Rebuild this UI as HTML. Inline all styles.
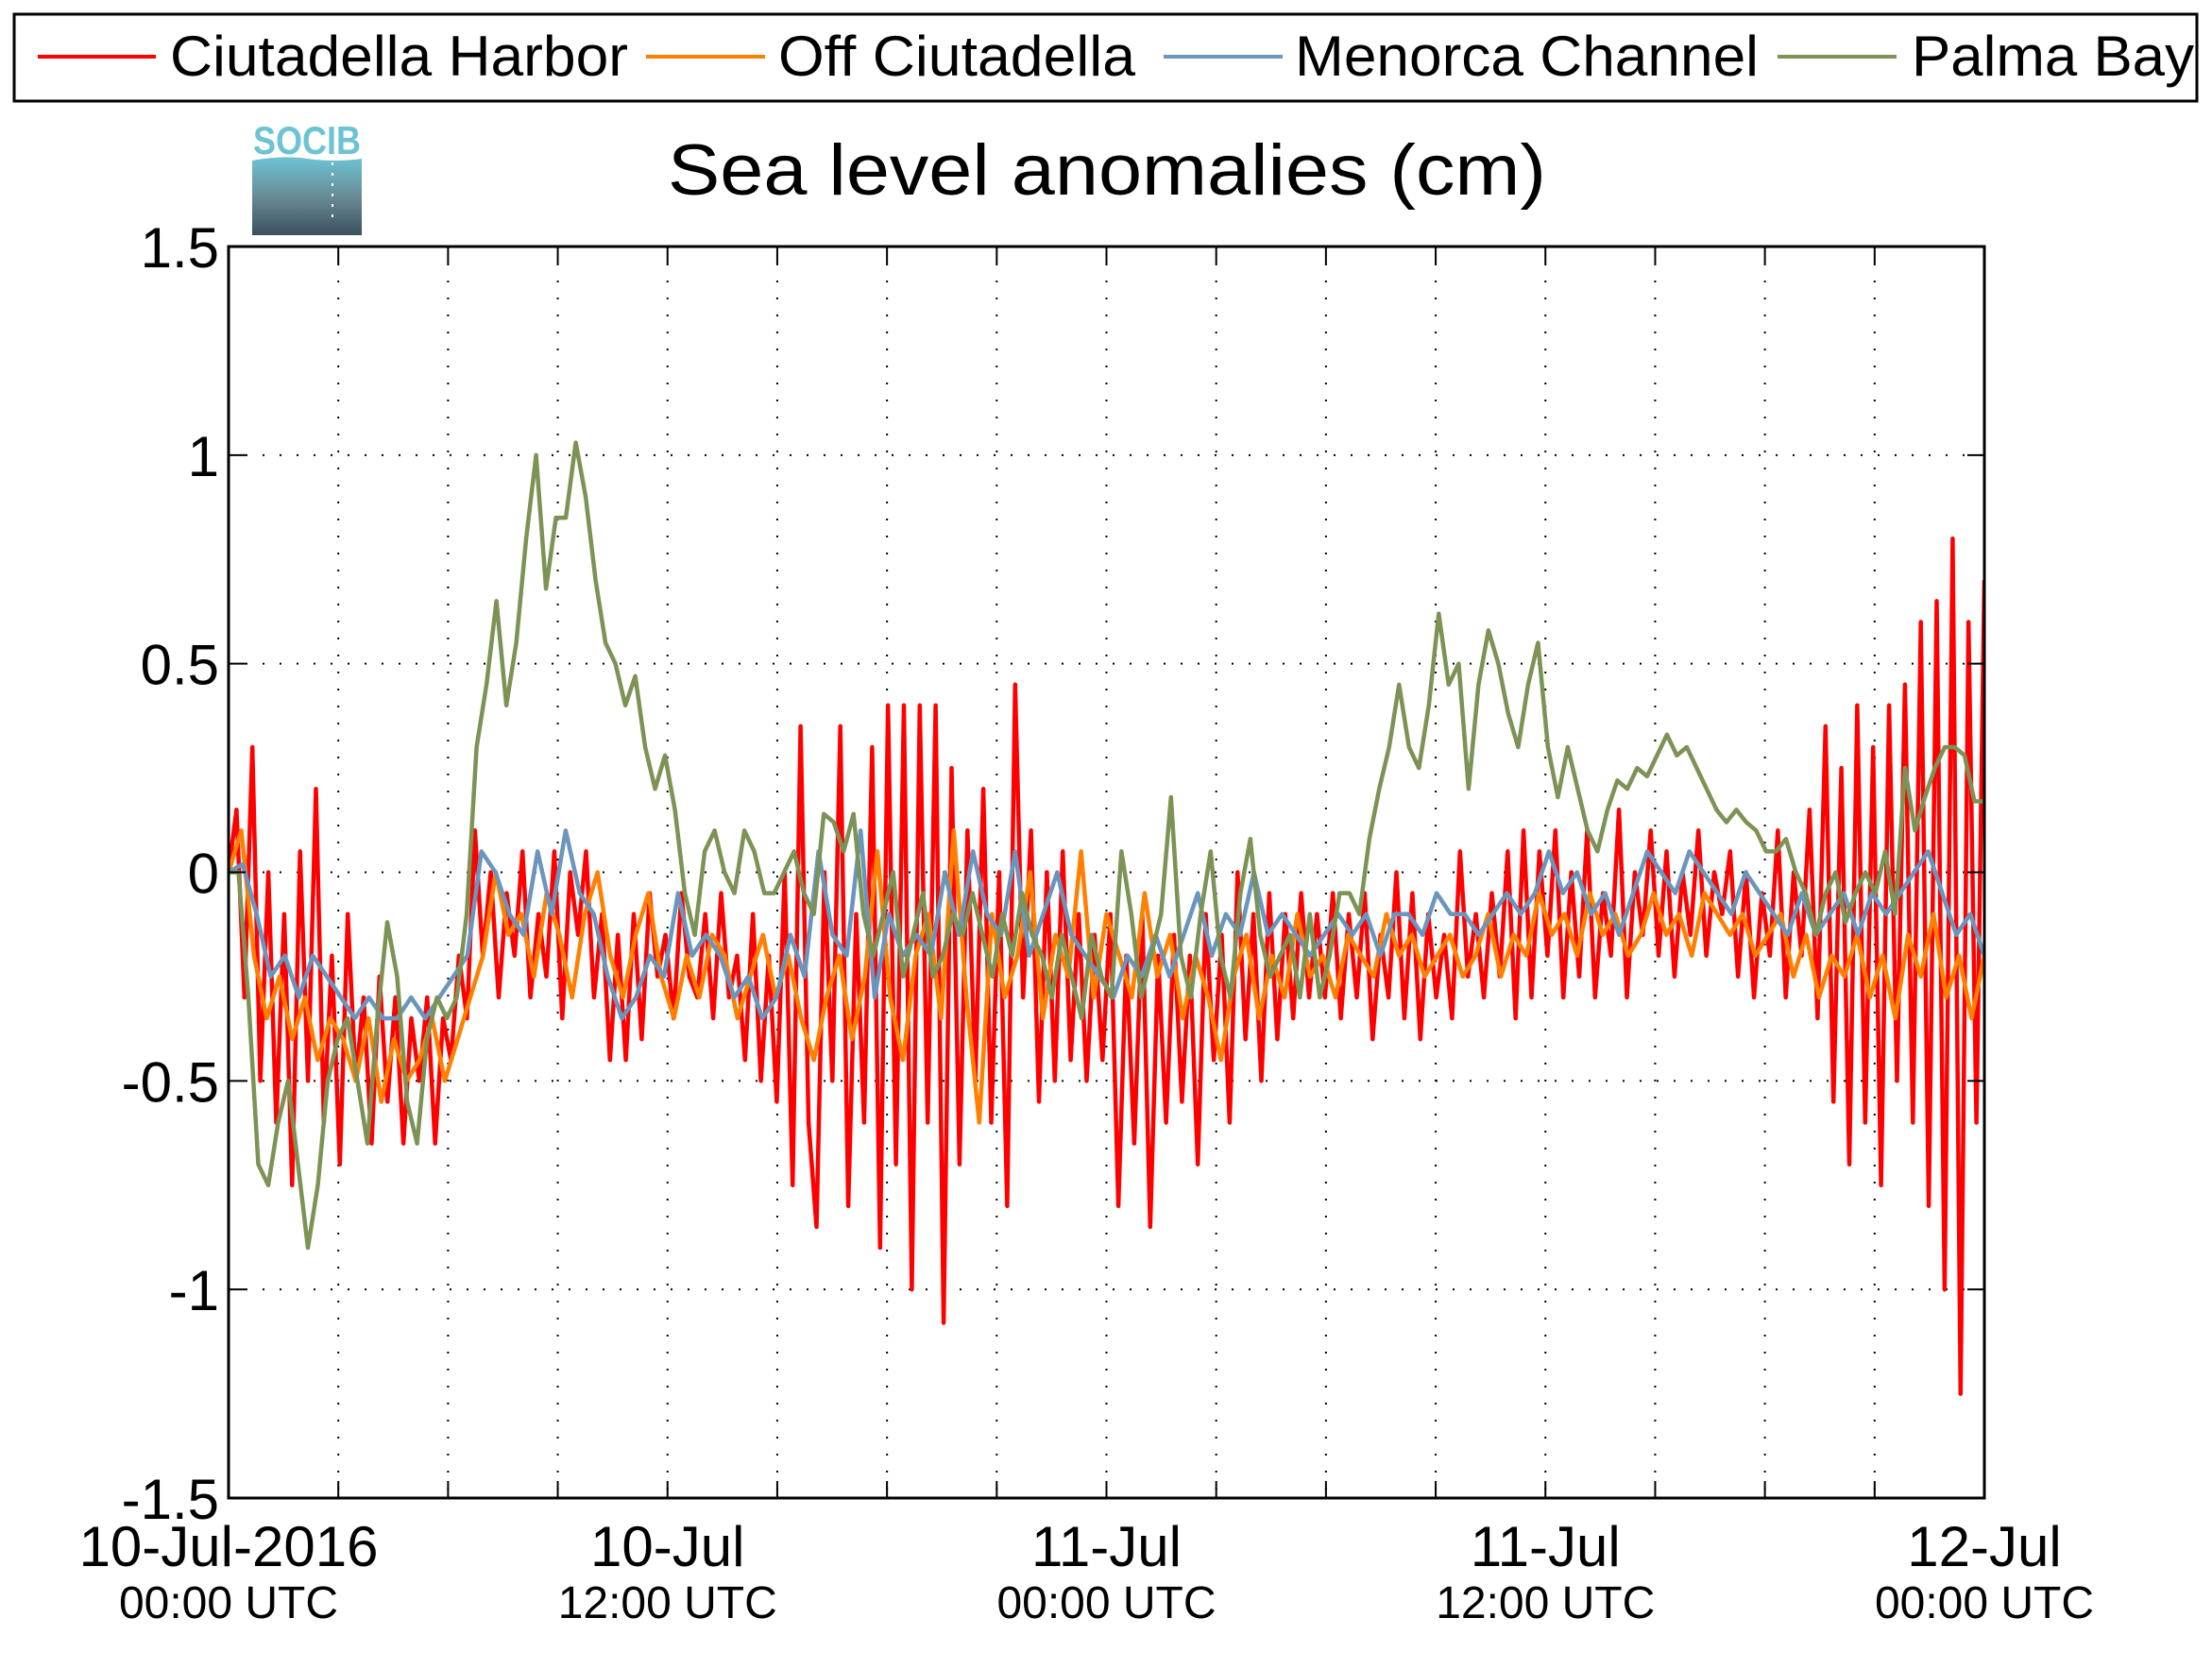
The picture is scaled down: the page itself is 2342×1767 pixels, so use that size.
<!DOCTYPE html>
<html><head><meta charset="utf-8"><style>
html,body{margin:0;padding:0;background:#fff;}
svg{display:block;font-family:"Liberation Sans",sans-serif;}
</style></head><body>
<svg id="chart" width="2342" height="1767" viewBox="0 0 2342 1767" xmlns="http://www.w3.org/2000/svg">
<defs>
<linearGradient id="lg" x1="0" y1="0" x2="0" y2="1">
<stop offset="0" stop-color="#6cc3d3"/><stop offset="0.5" stop-color="#6a8c98"/><stop offset="1" stop-color="#3c4f5c"/>
</linearGradient>
<clipPath id="pc"><rect x="242" y="261" width="1859" height="1325"/></clipPath>
</defs>
<rect width="2342" height="1767" fill="#fff"/>
<g>
<rect x="15" y="15" width="2311" height="92" fill="#fff" stroke="#000" stroke-width="3"/>
<g><line x1="40" y1="60" x2="165" y2="60" stroke="#ff0000" stroke-width="4"/><text x="180" y="80" font-size="60" textLength="485" lengthAdjust="spacingAndGlyphs">Ciutadella Harbor</text></g>
<g><line x1="684" y1="60" x2="810" y2="60" stroke="#ff7f00" stroke-width="4"/><text x="824" y="80" font-size="60" textLength="378" lengthAdjust="spacingAndGlyphs">Off Ciutadella</text></g>
<g><line x1="1232" y1="60" x2="1358" y2="60" stroke="#6a95bd" stroke-width="4"/><text x="1371" y="80" font-size="60" textLength="491" lengthAdjust="spacingAndGlyphs">Menorca Channel</text></g>
<g><line x1="1882" y1="60" x2="2008" y2="60" stroke="#7c9355" stroke-width="4"/><text x="2024" y="80" font-size="60" textLength="299" lengthAdjust="spacingAndGlyphs">Palma Bay</text></g>
</g>
<g>
<text x="325" y="163" font-size="42" font-weight="bold" fill="#6cc3d3" text-anchor="middle" textLength="114" lengthAdjust="spacingAndGlyphs">SOCIB</text>
<path d="M267 170 Q300 164 325 168 Q355 172 383 168 L383 249 L267 249 Z" fill="url(#lg)"/>
<line x1="352" y1="172" x2="352" y2="232" stroke="#fff" stroke-width="2" stroke-dasharray="3,8"/>
</g>
<text x="1172" y="206" font-size="76" text-anchor="middle" textLength="930" lengthAdjust="spacingAndGlyphs">Sea level anomalies (cm)</text>
<g id="grid"></g>
<g id="series" clip-path="url(#pc)"></g>
<rect x="242" y="261" width="1859" height="1325" fill="none" stroke="#000" stroke-width="3"/>
<g id="axes"></g>
</svg>
<script>
const yTicks=[1.5,1,0.5,0,-0.5,-1,-1.5];
const yTickLabels=["1.5","1","0.5","0","-0.5","-1","-1.5"];
const xTickHours=[3,6,9,12,15,18,21,24,27,30,33,36,39,42,45];
const xLabelHours=[0,12,24,36,48];
const xLabelDates=["10-Jul-2016","10-Jul","11-Jul","11-Jul","12-Jul"];
const xLabelTimes=["00:00 UTC","12:00 UTC","00:00 UTC","12:00 UTC","00:00 UTC"];
const harbor=[0.0,0.15,-0.3,0.3,-0.5,0.0,-0.6,-0.1,-0.75,0.05,
-0.5,0.2,-0.6,-0.2,-0.7,-0.1,-0.5,-0.3,-0.65,-0.25,
-0.55,-0.3,-0.65,-0.35,-0.5,-0.3,-0.65,-0.35,-0.45,-0.2,
-0.35,0.1,-0.2,0.0,-0.3,-0.05,-0.2,0.05,-0.3,-0.1,
-0.25,0.05,-0.35,0.0,-0.15,0.05,-0.3,-0.1,-0.45,-0.15,
-0.45,-0.1,-0.4,-0.05,-0.25,-0.15,-0.35,-0.05,-0.25,-0.3,
-0.1,-0.35,-0.05,-0.3,-0.2,-0.45,-0.1,-0.5,-0.2,-0.55,
0.0,-0.75,0.35,-0.6,-0.85,0.0,-0.5,0.35,-0.8,-0.1,
-0.6,0.3,-0.9,0.4,-0.7,0.4,-1.0,0.4,-0.6,0.4,
-1.08,0.25,-0.7,0.1,-0.5,0.2,-0.6,0.0,-0.8,0.45,
-0.3,0.1,-0.55,0.0,-0.5,0.05,-0.45,-0.1,-0.5,-0.15,
-0.45,-0.1,-0.8,-0.2,-0.65,-0.1,-0.85,-0.2,-0.6,-0.15,
-0.55,-0.2,-0.7,-0.1,-0.45,-0.15,-0.6,0.0,-0.4,-0.1,
-0.5,-0.05,-0.4,-0.1,-0.35,-0.05,-0.3,-0.1,-0.3,-0.05,
-0.35,-0.1,-0.3,-0.05,-0.4,-0.15,-0.3,0.0,-0.35,-0.05,
-0.4,-0.1,-0.3,-0.15,-0.35,0.05,-0.25,-0.1,-0.3,-0.05,
-0.25,0.05,-0.35,0.1,-0.3,0.05,-0.2,0.1,-0.3,0.0,
-0.25,0.1,-0.3,-0.05,-0.2,0.15,-0.3,0.0,-0.15,0.1,
-0.2,0.05,-0.25,0.0,-0.15,0.1,-0.2,0.0,-0.1,0.05,
-0.25,0.0,-0.3,-0.05,-0.2,0.1,-0.3,0.0,-0.2,0.15,
-0.35,0.35,-0.55,0.25,-0.7,0.4,-0.6,0.3,-0.75,0.4,
-0.5,0.45,-0.6,0.6,-0.8,0.65,-1.0,0.8,-1.25,0.6,
-0.6,0.7];
const offCiutadella=[0.0,0.1,-0.2,-0.35,-0.25,-0.4,-0.3,-0.45,-0.35,-0.4,-0.5,-0.35,-0.55,-0.4,-0.5,-0.45,-0.35,-0.5,-0.4,-0.3,-0.2,0.0,-0.15,-0.1,-0.25,-0.05,-0.15,-0.3,-0.1,0.0,-0.2,-0.3,-0.15,-0.05,-0.25,-0.35,-0.2,-0.3,-0.15,-0.2,-0.35,-0.25,-0.15,-0.3,-0.2,-0.35,-0.45,-0.3,-0.2,-0.4,-0.25,0.05,-0.3,-0.45,-0.2,-0.1,-0.35,0.1,-0.3,-0.6,-0.1,-0.3,-0.2,0.0,-0.35,-0.15,-0.25,0.05,-0.3,-0.1,-0.2,-0.3,-0.05,-0.25,-0.15,-0.35,-0.2,-0.3,-0.45,-0.25,-0.15,-0.35,-0.2,-0.3,-0.1,-0.25,-0.2,-0.3,-0.15,-0.2,-0.25,-0.1,-0.2,-0.15,-0.25,-0.2,-0.15,-0.25,-0.2,-0.1,-0.25,-0.15,-0.2,-0.05,-0.15,-0.1,-0.2,-0.05,-0.15,-0.1,-0.2,-0.15,-0.05,-0.15,-0.1,-0.2,-0.05,-0.1,-0.15,-0.1,-0.2,-0.15,-0.1,-0.25,-0.15,-0.3,-0.2,-0.25,-0.15,-0.3,-0.2,-0.35,-0.15,-0.25,-0.1,-0.3,-0.2,-0.35,-0.2];
const menorca=[0,0.02,-0.1,-0.25,-0.2,-0.3,-0.2,-0.25,-0.3,-0.35,-0.3,-0.35,-0.35,-0.3,-0.35,-0.3,-0.25,-0.2,0.05,0.0,-0.1,-0.15,0.05,-0.1,0.1,-0.05,-0.1,-0.25,-0.35,-0.3,-0.2,-0.25,-0.05,-0.2,-0.15,-0.2,-0.3,-0.25,-0.35,-0.3,-0.15,-0.25,0.05,-0.15,-0.2,0.1,-0.3,-0.1,-0.2,-0.15,-0.2,0.0,-0.15,0.05,-0.1,-0.15,0.05,-0.2,-0.1,0.0,-0.15,-0.2,-0.25,-0.3,-0.2,-0.25,-0.15,-0.25,-0.15,-0.05,-0.2,-0.1,-0.15,0.0,-0.15,-0.1,-0.15,-0.2,-0.15,-0.1,-0.15,-0.1,-0.2,-0.1,-0.1,-0.15,-0.05,-0.1,-0.1,-0.15,-0.1,-0.05,-0.1,-0.05,0.05,-0.05,0.0,-0.1,-0.05,-0.15,-0.05,0.05,0.0,-0.05,0.05,0.0,-0.05,-0.1,0.0,-0.05,-0.1,-0.15,-0.05,-0.15,-0.1,-0.05,-0.15,-0.05,-0.1,-0.05,0.0,0.05,-0.05,-0.15,-0.1,-0.2];
const palma=[0,0.0,-0.3,-0.7,-0.75,-0.6,-0.5,-0.7,-0.9,-0.75,-0.5,-0.4,-0.35,-0.5,-0.65,-0.35,-0.12,-0.25,-0.55,-0.65,-0.4,-0.3,-0.35,-0.3,-0.1,0.3,0.45,0.65,0.4,0.55,0.8,1.0,0.68,0.85,0.85,1.03,0.9,0.7,0.55,0.5,0.4,0.47,0.3,0.2,0.28,0.15,-0.05,-0.15,0.05,0.1,0.0,-0.05,0.1,0.05,-0.05,-0.05,0.0,0.05,-0.05,-0.1,0.14,0.12,0.05,0.14,-0.1,-0.2,-0.1,0.0,-0.25,-0.15,-0.05,-0.25,-0.2,-0.1,-0.15,-0.05,-0.15,-0.25,-0.1,-0.2,-0.05,-0.15,-0.2,-0.3,-0.15,-0.25,-0.35,-0.15,-0.25,-0.3,0.05,-0.1,-0.3,-0.2,-0.1,0.18,-0.2,-0.3,-0.1,0.05,-0.2,-0.3,-0.05,0.08,-0.15,-0.25,-0.2,-0.15,-0.3,-0.1,-0.3,-0.2,-0.05,-0.05,-0.1,0.08,0.2,0.3,0.45,0.3,0.25,0.4,0.62,0.45,0.5,0.2,0.45,0.58,0.5,0.38,0.3,0.45,0.55,0.3,0.18,0.3,0.2,0.1,0.05,0.15,0.22,0.2,0.25,0.23,0.28,0.33,0.28,0.3,0.25,0.2,0.15,0.12,0.15,0.12,0.1,0.05,0.05,0.08,0.0,-0.05,-0.15,-0.05,0.0,-0.12,-0.05,0.0,-0.05,0.05,-0.1,0.25,0.1,0.18,0.25,0.3,0.3,0.28,0.17,0.17];

const X0=242,X1=2101,Y0=261,Y1=1586,HOURS=48;
const xs=h=>X0+(X1-X0)*h/HOURS;
const ys=v=>Y1-(Y1-Y0)*(v+1.5)/3;
const NS="http://www.w3.org/2000/svg";
function mk(tag,attrs,parent){const e=document.createElementNS(NS,tag);for(const k in attrs)e.setAttribute(k,attrs[k]);parent.appendChild(e);return e;}
const grid=document.getElementById('grid'),axes=document.getElementById('axes'),ser=document.getElementById('series');
xTickHours.forEach(h=>{
  const l=mk('line',{x1:xs(h),x2:xs(h),y1:Y0,y2:Y1,stroke:'#000','stroke-width':2,'stroke-dasharray':'2,16'},grid);
  
  
  const t1=mk('line',{x1:xs(h),x2:xs(h),y1:Y0,y2:Y0+18,stroke:'#000','stroke-width':2},axes);
  
  
  const t2=mk('line',{x1:xs(h),x2:xs(h),y1:Y1-18,y2:Y1,stroke:'#000','stroke-width':2},axes);
  
  
});
yTicks.forEach((v,i)=>{
  if(v<1.5&&v>-1.5){
    const l=mk('line',{x1:X0,x2:X1,y1:ys(v),y2:ys(v),stroke:'#000','stroke-width':2,'stroke-dasharray':'2,16'},grid);
    
    
    const a=mk('line',{x1:X0,x2:X0+18,y1:ys(v),y2:ys(v),stroke:'#000','stroke-width':2},axes);
    
    
    const b=mk('line',{x1:X1-18,x2:X1,y1:ys(v),y2:ys(v),stroke:'#000','stroke-width':2},axes);
    
    
  }
  const t=mk('text',{x:232,y:ys(v)+22,'font-size':60,'text-anchor':'end'},axes);
  t.textContent=yTickLabels[i];
  
  
});
xLabelHours.forEach((h,i)=>{
  const a=mk('text',{x:xs(h),y:1658,'font-size':60,'text-anchor':'middle'},axes);
  a.textContent=xLabelDates[i];
  
  
  const b=mk('text',{x:xs(h),y:1713,'font-size':48,'text-anchor':'middle'},axes);
  b.textContent=xLabelTimes[i];
  
  
});
function line(arr,color,name){
  const n=arr.length;
  const d=arr.map((v,i)=>(i?'L':'M')+xs(HOURS*i/(n-1)).toFixed(1)+' '+ys(v).toFixed(1)).join(' ');
  const p=mk('path',{d:d,fill:'none',stroke:color,'stroke-width':4.5,'stroke-linejoin':'round'},ser);
  
  
}
line(harbor,'#ff0000','series-ciutadella-harbor');
line(offCiutadella,'#ff7f00','series-off-ciutadella');
line(menorca,'#6a95bd','series-menorca-channel');
line(palma,'#7c9355','series-palma-bay');
</script>
</body></html>
